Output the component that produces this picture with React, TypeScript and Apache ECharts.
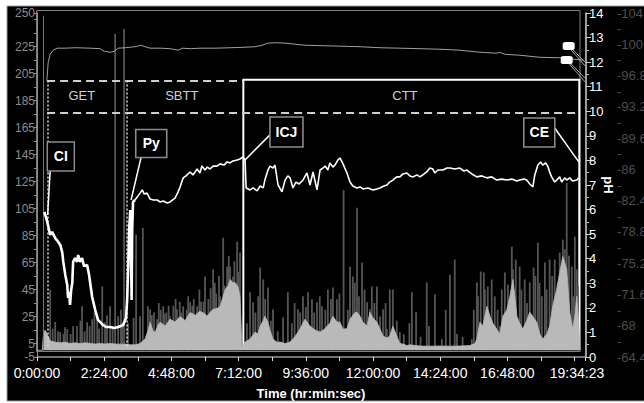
import React, { useEffect, useRef } from "react";
import * as echarts from "echarts";

// ---- axis ticks / labels ----
const xLabelSeconds = [0, 8640, 17280, 25920, 34560, 43200, 51840, 60480, 70463];
const xTickSeconds = [0, 4320, 8640, 12960, 17280, 21600, 25920, 30240, 34560, 38880, 43200, 47520, 51840, 56160, 60480, 64800, 69120, 70463];
const pressureLabels = [-5, 5, 25, 45, 65, 85, 105, 125, 145, 165, 185, 205, 225, 250];
const pressureTicks = [-5, 5, 15, 25, 35, 45, 55, 65, 75, 85, 95, 105, 115, 125, 135, 145, 155, 165, 175, 185, 195, 205, 215, 225, 235, 245, 250];
const tempLabels = [-104, -100.4, -96.8, -93.2, -89.6, -86, -82.4, -78.8, -75.2, -71.6, -68, -64.4];
const tempMinor = [-102.2, -98.6, -95, -91.4, -87.8, -84.2, -80.6, -77, -73.4, -69.8, -66.2];

// ---- data: [hours, value] ----
const phTrace: [number, number][] = [
  [0.26, 5.9], [0.33, 5.66], [0.4, 5.33], [0.47, 4.97], [0.54, 5.09], [0.65, 4.84], [0.76, 4.68], [0.83, 4.56],
  [0.9, 4.27], [0.94, 3.87], [1.01, 3.34], [1.08, 2.93], [1.11, 2.4], [1.15, 2.65], [1.18, 2.12], [1.22, 2.73],
  [1.26, 3.01], [1.29, 3.87], [1.36, 4.03], [1.43, 3.87], [1.47, 4.15], [1.54, 3.87], [1.61, 4.03], [1.68, 3.7],
  [1.79, 3.74], [1.86, 3.34], [1.9, 3.01], [1.97, 2.44], [2.08, 1.91], [2.18, 1.51], [2.26, 1.42], [2.36, 1.3],
  [2.47, 1.22], [2.61, 1.22], [2.76, 1.18], [2.9, 1.22], [3.08, 1.3], [3.18, 1.59], [3.22, 2.32], [3.26, 3.74],
  [3.29, 5.17], [3.33, 5.98], [3.36, 3.95], [3.38, 2.32], [3.4, 5.17], [3.43, 6.31], [3.5, 6.39], [3.58, 6.51],
  [3.68, 6.67], [3.76, 6.8], [3.83, 6.63], [3.93, 6.67], [4.04, 6.43], [4.15, 6.39], [4.29, 6.39], [4.4, 6.31],
  [4.51, 6.35], [4.65, 6.27], [4.75, 6.31], [4.93, 6.47], [5.04, 6.72], [5.11, 6.92], [5.22, 7.29], [5.32, 7.37],
  [5.47, 7.53], [5.57, 7.41], [5.72, 7.65], [5.82, 7.49], [5.89, 7.77], [6.0, 7.61], [6.08, 7.73], [6.18, 7.65],
  [6.29, 7.77], [6.43, 7.77], [6.54, 7.86], [6.68, 7.81], [6.79, 7.94], [6.9, 7.9], [7.0, 7.98], [7.15, 8.02],
  [7.25, 8.06], [7.36, 8.14], [7.43, 8.02], [7.47, 6.88], [7.61, 6.8], [7.72, 6.88], [7.86, 6.76], [7.97, 6.96],
  [8.08, 6.88], [8.14, 7.2], [8.25, 7.61], [8.32, 7.77], [8.43, 7.69], [8.5, 7.81], [8.61, 7.0], [8.75, 6.72],
  [8.86, 7.2], [8.96, 7.37], [9.04, 7.29], [9.14, 6.88], [9.25, 7.12], [9.36, 7.04], [9.5, 7.2], [9.64, 7.49],
  [9.75, 7.0], [9.86, 7.53], [10.0, 6.8], [10.11, 7.61], [10.21, 7.69], [10.29, 7.77], [10.39, 7.61], [10.46, 7.9],
  [10.57, 7.73], [10.64, 7.81], [10.75, 8.02], [10.82, 8.1], [10.93, 7.86], [11.07, 7.49], [11.18, 7.12], [11.28, 6.96],
  [11.43, 6.88], [11.54, 6.92], [11.64, 6.84], [11.82, 6.88], [12.0, 6.8], [12.14, 6.84], [12.25, 6.88], [12.39, 6.96],
  [12.5, 7.0], [12.6, 7.12], [12.71, 7.2], [12.85, 7.33], [12.96, 7.33], [13.07, 7.45], [13.21, 7.49], [13.32, 7.37],
  [13.43, 7.33], [13.57, 7.41], [13.68, 7.33], [13.78, 7.41], [13.92, 7.53], [14.03, 7.69], [14.14, 7.65], [14.21, 7.49],
  [14.32, 7.61], [14.5, 7.61], [14.64, 7.69], [14.75, 7.69], [14.92, 7.65], [15.1, 7.69], [15.25, 7.57], [15.35, 7.61],
  [15.53, 7.45], [15.71, 7.33], [15.89, 7.37], [16.07, 7.29], [16.24, 7.33], [16.42, 7.2], [16.6, 7.24], [16.78, 7.2],
  [16.96, 7.24], [17.14, 7.16], [17.24, 7.2], [17.39, 7.24], [17.49, 7.2], [17.6, 7.04], [17.71, 6.92], [17.78, 7.41],
  [17.89, 7.81], [17.99, 7.94], [18.06, 7.81], [18.17, 7.9], [18.24, 7.77], [18.31, 7.53], [18.38, 7.33], [18.49, 7.12],
  [18.56, 7.2], [18.67, 7.33], [18.74, 7.12], [18.85, 7.29], [18.92, 7.2], [19.03, 7.29], [19.13, 7.16], [19.28, 7.2],
  [19.35, 7.29],
];
// hour at which the noisy gastric part of the pH trace ends
const phGastricEnd = 3.5;

const tempTrace: [number, number][] = [
  [0.35, -96.2], [0.4, -98.3], [0.47, -99.25], [0.58, -99.72], [0.72, -99.95], [1.01, -99.95], [1.36, -100.0],
  [1.9, -99.95], [2.26, -99.89], [2.4, -99.6], [2.61, -99.48], [2.76, -99.6], [2.9, -99.95], [3.15, -100.0],
  [3.33, -100.06], [3.5, -100.12], [3.72, -100.29], [3.86, -100.12], [4.04, -99.95], [4.4, -99.95], [4.75, -99.89],
  [5.04, -99.72], [5.19, -99.95], [5.47, -99.89], [5.82, -99.95], [6.36, -99.95], [6.9, -100.0], [7.43, -100.06],
  [7.79, -100.12], [8.04, -100.29], [8.25, -100.53], [8.5, -100.58], [8.86, -100.53], [9.21, -100.41], [9.57, -100.29],
  [10.11, -100.24], [10.82, -100.18], [11.54, -100.12], [12.25, -100.0], [12.96, -99.95], [13.68, -99.89],
  [14.39, -99.83], [15.1, -99.72], [15.82, -99.48], [16.42, -99.37], [16.53, -99.48], [16.71, -99.25],
  [17.24, -99.14], [17.96, -98.9], [18.67, -98.85], [19.21, -98.67], [19.53, -98.56],
];

const pressureBase: [number, number][] = [
  [0.0, 0], [0.19, 0], [0.22, 10], [0.29, 15], [0.36, 12], [0.47, 7], [0.65, 6], [0.83, 5.5], [1.01, 6], [1.18, 5],
  [1.36, 5.5], [1.54, 5], [1.72, 5.5], [1.9, 5], [2.08, 4.6], [2.26, 5], [2.43, 4.6], [2.61, 5], [2.79, 4.6],
  [2.97, 4.5], [3.15, 4.6], [3.33, 4.0], [3.5, 4.0], [3.68, 5], [3.86, 8.3], [3.97, 15], [4.04, 20.8], [4.15, 14],
  [4.22, 13.4], [4.33, 19], [4.4, 20.8], [4.58, 18], [4.75, 23], [4.93, 21], [5.11, 25], [5.29, 22], [5.47, 28],
  [5.65, 26], [5.82, 29], [6.0, 27], [6.07, 25.2], [6.18, 28], [6.29, 30.4], [6.43, 31], [6.54, 32.6], [6.65, 40],
  [6.72, 45], [6.83, 48], [6.9, 52.5], [7.0, 50], [7.07, 50.3], [7.18, 47], [7.25, 40], [7.32, 2], [7.43, 6.1],
  [7.61, 8.3], [7.79, 13.5], [7.89, 12], [7.97, 17.9], [8.08, 22], [8.14, 25.2], [8.25, 20.8], [8.32, 15],
  [8.43, 8.3], [8.57, 6], [8.68, 6.1], [8.86, 5], [9.04, 6.1], [9.21, 10], [9.39, 15.7], [9.57, 23], [9.68, 20],
  [9.75, 17.9], [9.93, 15], [10.11, 13.5], [10.29, 16], [10.36, 17.9], [10.46, 20], [10.57, 25.2], [10.71, 21],
  [10.82, 20.8], [10.93, 15.7], [11.07, 16], [11.18, 23], [11.36, 28], [11.43, 28.2], [11.54, 25.2], [11.64, 20.8],
  [11.79, 18], [11.89, 28.2], [12.0, 24], [12.14, 20.8], [12.25, 15.7], [12.36, 10.5], [12.5, 9], [12.6, 10.5],
  [12.71, 18], [12.85, 10.5], [12.96, 5], [13.07, 4.6], [13.21, 3.5], [13.32, 4], [13.68, 3.1], [14.03, 3],
  [14.39, 3.1], [14.75, 3], [15.1, 3.1], [15.46, 3.5], [15.64, 5], [15.71, 8.3], [15.82, 20.8], [15.92, 18],
  [16.07, 32.6], [16.18, 25.2], [16.28, 20], [16.42, 15.7], [16.53, 12], [16.64, 25.2], [16.78, 30], [16.89, 40],
  [17.0, 52.5], [17.07, 40], [17.14, 25.2], [17.24, 20], [17.35, 15.7], [17.49, 22], [17.6, 28.2], [17.71, 25],
  [17.85, 20.8], [17.96, 12], [18.06, 8.3], [18.21, 12], [18.31, 17.9], [18.42, 32.6], [18.56, 45], [18.67, 57.7],
  [18.78, 69.5], [18.85, 65], [18.92, 59.9], [19.03, 28.2], [19.13, 15.7], [19.21, 25], [19.28, 40], [19.35, 20],
  [19.39, 0],
];

const pressureSpikes: [number, number][] = [
  [0.47, 45], [0.56, 16], [0.65, 21], [0.75, 14], [0.83, 13.5], [0.95, 12], [1.0, 17], [1.08, 15.7], [1.2, 12],
  [1.29, 18], [1.43, 18], [1.55, 22], [1.61, 32.6], [1.7, 14], [1.79, 20.8], [1.88, 18], [1.97, 23], [2.05, 28],
  [2.15, 25.2], [2.22, 16], [2.33, 47.3], [2.43, 20.8], [2.5, 26], [2.61, 32.6], [2.7, 18], [2.79, 234.5], [2.9, 25.2],
  [3.0, 30], [3.04, 20.8], [3.11, 238.2], [3.25, 20], [3.45, 24], [3.54, 85.7], [3.68, 25.2], [3.78, 90.8],
  [3.96, 32.6], [4.04, 30.4], [4.1, 26], [4.18, 28], [4.29, 23], [4.35, 35], [4.42, 30], [4.51, 32.6], [4.55, 27],
  [4.62, 28], [4.7, 33], [4.75, 25.2], [4.87, 33], [4.95, 38], [5.0, 30.4], [5.1, 36], [5.15, 28], [5.22, 32.6],
  [5.35, 30], [5.4, 40], [5.47, 35.6], [5.55, 33], [5.6, 38], [5.72, 32.6], [5.8, 45], [5.86, 36], [5.95, 36],
  [6.0, 54.7], [6.12, 38], [6.2, 46], [6.29, 60], [6.35, 50], [6.4, 42], [6.5, 55], [6.54, 40], [6.65, 83.5],
  [6.7, 48], [6.79, 62], [6.85, 70], [6.9, 62], [7.0, 54.7], [7.05, 66], [7.15, 80.5], [7.2, 58], [7.25, 72.4],
  [7.5, 20], [7.61, 43], [7.72, 35.6], [7.8, 28], [7.9, 40], [7.97, 61.3], [8.08, 52.5], [8.15, 38], [8.25, 46.6],
  [8.35, 22], [8.43, 30.4], [8.6, 14], [8.79, 24.5], [8.96, 43], [9.1, 20], [9.2, 35], [9.32, 30.4], [9.4, 28],
  [9.5, 40], [9.6, 32], [9.68, 43], [9.82, 37.8], [9.9, 28], [10.0, 35.6], [10.1, 40], [10.18, 32.6], [10.3, 30],
  [10.39, 45], [10.5, 38], [10.57, 46.6], [10.71, 37.8], [10.8, 42], [10.95, 118.8], [11.1, 30], [11.18, 62],
  [11.28, 54.7], [11.35, 50], [11.43, 105.6], [11.5, 40], [11.61, 65], [11.7, 45], [11.79, 35.6], [11.89, 30.4],
  [11.96, 47.3], [12.05, 35], [12.14, 47.3], [12.25, 25], [12.36, 30.4], [12.45, 35], [12.5, 15.7], [12.6, 45],
  [12.71, 45], [12.85, 22], [12.96, 13.5], [13.1, 12], [13.3, 20], [13.39, 43], [13.54, 28.2], [13.7, 10],
  [13.92, 50.3], [14.0, 18], [14.21, 41.5], [14.46, 8.3], [14.6, 30], [14.75, 56], [14.92, 67.2], [15.0, 12],
  [15.2, 10], [15.53, 8.3], [15.6, 30], [15.71, 50.3], [15.75, 40], [15.85, 58.4], [15.96, 57.7], [16.0, 45],
  [16.1, 47.3], [16.24, 52.5], [16.35, 40], [16.45, 30], [16.53, 17.9], [16.6, 45], [16.71, 57.7], [16.82, 48.8],
  [16.96, 76.8], [17.0, 60], [17.1, 67.2], [17.24, 62], [17.3, 45], [17.42, 52.5], [17.5, 35], [17.6, 50.3],
  [17.74, 61.3], [17.8, 55], [17.89, 79.8], [17.95, 50], [18.03, 40], [18.14, 65], [18.2, 45], [18.31, 67.2],
  [18.4, 55], [18.49, 67.2], [18.6, 50], [18.67, 72.4], [18.78, 82], [18.85, 75], [18.92, 124], [19.0, 70],
  [19.1, 62], [19.15, 40], [19.21, 84.2], [19.28, 60], [19.32, 47.3],
];

const H = 3600;
const toSec = (d: [number, number][]) => d.map(([h, v]) => [Math.round(h * H), v]);
const FONT = "Liberation Sans";

const fmtTime = (s: number) => {
  const h = Math.floor(s / 3600);
  const m = Math.floor((s % 3600) / 60);
  const sec = Math.round(s % 60);
  return `${h}:${String(m).padStart(2, "0")}:${String(sec).padStart(2, "0")}`;
};

const boxStyle = (w: number, h: number) => ({
  symbol: "rect",
  symbolSize: [w, h],
  itemStyle: { color: "#000", borderColor: "#8c8c8c", borderWidth: 1.5 },
  label: { show: true, position: "inside", formatter: "{b}", color: "#fff", fontWeight: "bold", fontSize: 14, fontFamily: FONT },
});

export default function App() {
  const ref = useRef<HTMLDivElement>(null);
  useEffect(() => {
    if (!ref.current) return;
    const chart = echarts.init(ref.current, undefined, { renderer: "svg" });
    const leader = (a: [number, number], b: [number, number], color = "#fff", width = 1.5) => [
      { coord: [Math.round(a[0] * H), a[1]], lineStyle: { color, width, type: "solid" } },
      { coord: [Math.round(b[0] * H), b[1]] },
    ];
    const phEarly = phTrace.filter(([h]) => h <= phGastricEnd);
    const phLate = phTrace.filter(([h]) => h >= phGastricEnd);
    const option: any = {
      animation: false,
      backgroundColor: "#fff",
      graphic: [
        { type: "rect", z: -10, shape: { x: 7, y: 6, width: 660, height: 395 }, style: { fill: "#000", stroke: "#9a9a9a", lineWidth: 1 } },
        { type: "rect", z: 0, shape: { x: 36.5, y: 10.5, width: 543.5, height: 341 }, style: { fill: "none", stroke: "#808080", lineWidth: 1 } },
      ],
      grid: { left: 37, right: 59, top: 13, bottom: 46, containLabel: false, outerBoundsMode: "none" },
      xAxis: {
        type: "value",
        min: 0,
        max: 70463,
        name: "Time (hr:min:sec)",
        nameLocation: "middle",
        nameGap: 30,
        nameTextStyle: { color: "#fff", fontSize: 13, fontWeight: "bold", fontFamily: FONT },
        axisLine: { onZero: false, lineStyle: { color: "#9a9a9a", width: 1.5 } },
        axisTick: { customValues: xTickSeconds, length: 4, lineStyle: { color: "#ddd" } },
        axisLabel: {
          customValues: xLabelSeconds,
          color: "#fff",
          fontSize: 14,
          fontFamily: FONT,
          margin: 9,
          formatter: (v: number) => (v === 70463 ? `{e|${fmtTime(v)}}` : fmtTime(v)),
          rich: { e: { color: "#fff", fontSize: 14, fontFamily: FONT, padding: [0, 16, 0, 0] } },
        },
        splitLine: { show: false },
      },
      yAxis: [
        {
          type: "value",
          min: -5,
          max: 250,
          position: "left",
          axisLine: { show: true, lineStyle: { color: "#8c8c8c" } },
          axisTick: { customValues: pressureTicks, length: 3, lineStyle: { color: "#8c8c8c" } },
          axisLabel: { customValues: pressureLabels, color: "#8c8c8c", fontSize: 12, fontFamily: FONT, margin: 2, formatter: (v: number) => String(v) },
          splitLine: { show: false },
        },
        {
          type: "value",
          min: 0,
          max: 14,
          interval: 1,
          position: "right",
          offset: 1,
          name: "pH",
          nameLocation: "middle",
          nameGap: 16,
          nameRotate: -90,
          nameMoveOverlap: false,
          nameTextStyle: { color: "#fff", fontSize: 13, fontWeight: "bold", fontFamily: FONT },
          axisLine: { show: true, lineStyle: { color: "#d0d0d0", width: 1.5 } },
          axisTick: { show: true, length: 5, lineStyle: { color: "#d0d0d0" } },
          minorTick: { show: true, splitNumber: 2, length: 3, lineStyle: { color: "#bbb" } },
          axisLabel: { color: "#fff", fontSize: 13, fontFamily: FONT, margin: 3 },
          splitLine: { show: false },
        },
        {
          type: "value",
          min: -104,
          max: -64.4,
          inverse: true,
          position: "right",
          offset: 26,
          axisLine: { show: false },
          axisTick: { show: false },
          axisLabel: {
            customValues: [...tempLabels, ...tempMinor],
            color: "#4d4d4d",
            fontSize: 13,
            fontFamily: FONT,
            margin: 6,
            formatter: (v: number) => {
              const r = Math.round(v * 10) / 10;
              return tempLabels.some((l) => Math.abs(l - r) < 1e-6) ? String(r) : "-";
            },
          },
          splitLine: { show: false },
        },
      ],
      series: [
        {
          name: "spikes",
          type: "bar",
          yAxisIndex: 0,
          barWidth: 1.8,
          z: 1,
          itemStyle: { color: "#555" },
          data: toSec(pressureSpikes),
        },
        {
          name: "pressure",
          type: "line",
          yAxisIndex: 0,
          z: 2,
          symbol: "none",
          lineStyle: { color: "#b9b9b9", width: 0.8 },
          areaStyle: { color: "#b9b9b9", opacity: 1 },
          data: toSec(pressureBase),
        },
        {
          name: "temperature",
          type: "line",
          yAxisIndex: 2,
          z: 3,
          symbol: "none",
          lineStyle: { color: "#a0a0a0", width: 1 },
          data: toSec(tempTrace),
        },
        {
          name: "annotations",
          type: "line",
          yAxisIndex: 0,
          z: 4,
          symbol: "none",
          lineStyle: { width: 0, opacity: 0 },
          data: [[0, 0]],
          markArea: {
            silent: true,
            itemStyle: { color: "rgba(0,0,0,0)", borderColor: "#fff", borderWidth: 2 },
            data: [[{ coord: [Math.round(7.37 * H), 200.5] }, { coord: [Math.round(19.37 * H), 1] }]],
          },
          markLine: {
            silent: true,
            symbol: ["none", "none"],
            label: { show: false },
            data: [
              [
                { coord: [Math.round(0.36 * H), 200], lineStyle: { color: "#cfcfcf", width: 2, type: [8, 5] } },
                { coord: [Math.round(7.37 * H), 200] },
              ],
              [
                { coord: [Math.round(0.36 * H), 176], lineStyle: { color: "#cfcfcf", width: 2, type: [8, 5] } },
                { coord: [Math.round(19.37 * H), 176] },
              ],
              [
                { coord: [Math.round(0.37 * H), 200], lineStyle: { color: "#ddd", width: 1.5, type: [2, 2] } },
                { coord: [Math.round(0.37 * H), 2] },
              ],
              [
                { coord: [Math.round(3.19 * H), 200], lineStyle: { color: "#ddd", width: 1.5, type: [2, 2] } },
                { coord: [Math.round(3.19 * H), 2] },
              ],
              [
                { coord: [Math.round(0.22 * H), 248], lineStyle: { color: "#777", width: 1, type: "solid" } },
                { coord: [Math.round(0.22 * H), 0] },
              ],
            ],
          },
          markPoint: {
            silent: true,
            symbol: "circle",
            symbolSize: 1,
            itemStyle: { color: "rgba(0,0,0,0)" },
            label: { show: true, position: "inside", formatter: "{b}", color: "#cfcfcf", fontSize: 13, fontFamily: FONT },
            data: [
              { name: "GET", coord: [Math.round(1.6 * H), 188.5] },
              { name: "SBTT", coord: [Math.round(5.17 * H), 188.5] },
              { name: "CTT", coord: [Math.round(13.14 * H), 188.5] },
            ],
          },
        },
        {
          name: "pH gastric",
          type: "line",
          yAxisIndex: 1,
          z: 5,
          symbol: "none",
          lineStyle: { color: "#fff", width: 2.6 },
          data: toSec(phEarly),
        },
        {
          name: "pH",
          type: "line",
          yAxisIndex: 1,
          z: 5,
          symbol: "none",
          lineStyle: { color: "#fff", width: 1.6 },
          data: toSec(phLate),
          markLine: {
            silent: true,
            symbol: ["none", "none"],
            label: { show: false },
            data: [
              leader([0.47, 7.57], [0.38, 5.78]),
              leader([3.72, 8.14], [3.36, 6.39]),
              leader([8.32, 9.04], [7.43, 8.02]),
              leader([18.49, 9.32], [19.35, 7.94]),
              leader([19.04, 12.62], [19.573, 12.0], "#aaa", 1),
              leader([19.04, 12.55], [19.573, 11.85], "#aaa", 1),
              leader([18.97, 12.05], [19.573, 11.35], "#aaa", 1),
              leader([18.97, 11.98], [19.573, 11.2], "#aaa", 1),
            ],
          },
          markPoint: {
            silent: true,
            data: [
              { name: "CI", coord: [Math.round(0.85 * H), 8.16], ...boxStyle(27, 29) },
              { name: "Py", coord: [Math.round(4.08 * H), 8.69], ...boxStyle(31, 28) },
              { name: "ICJ", coord: [Math.round(8.91 * H), 9.16], ...boxStyle(33, 30) },
              { name: "CE", coord: [Math.round(17.94 * H), 9.14], ...boxStyle(31, 29) },
              { name: "", coord: [Math.round(18.99 * H), 12.66], symbol: "roundRect", symbolSize: [12, 8], itemStyle: { color: "#fff" }, label: { show: false } },
              { name: "", coord: [Math.round(18.92 * H), 12.09], symbol: "roundRect", symbolSize: [12, 8], itemStyle: { color: "#fff" }, label: { show: false } },
            ],
          },
        },
      ],
    };
    chart.setOption(option);
    return () => chart.dispose();
  }, []);
  return <div ref={ref} style={{ position: "absolute", left: 0, top: 0, width: 644, height: 403 }} />;
}
